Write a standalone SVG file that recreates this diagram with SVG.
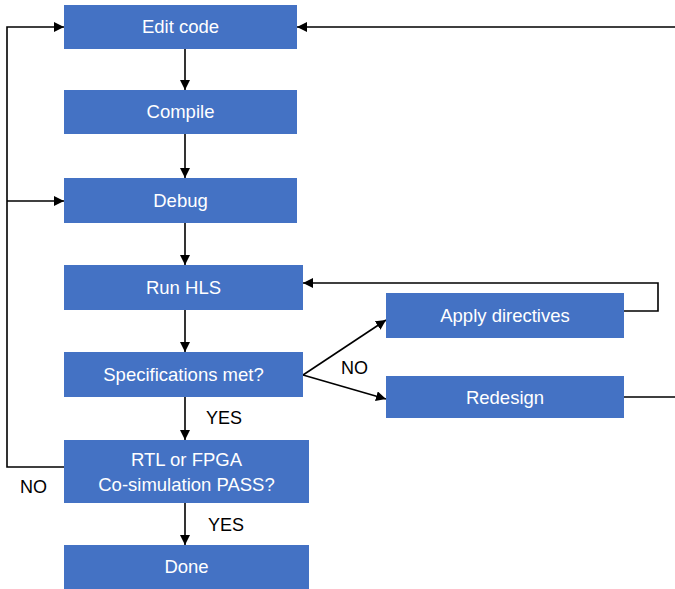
<svg xmlns="http://www.w3.org/2000/svg" width="675" height="589" viewBox="0 0 675 589">
<defs>
<marker id="ah" viewBox="0 0 10 10" refX="10" refY="5" markerWidth="10" markerHeight="10" markerUnits="userSpaceOnUse" orient="auto">
<path d="M0,0 L10,5 L0,10 z" fill="#000"/>
</marker>
<style>
.box{fill:#4472C4;}
.t{font-family:"Liberation Sans",Arial,sans-serif;font-size:18.5px;fill:#fff;text-anchor:middle;}
.l{font-family:"Liberation Sans",Arial,sans-serif;font-size:18px;fill:#000;}
.c{fill:none;stroke:#000;stroke-width:1.6;}
.a{marker-end:url(#ah);}
</style>
</defs>
<rect width="675" height="589" fill="#fff"/>
<g id="connectors">
<path class="c a" d="M185,49 V90"/>
<path class="c a" d="M185,134 V178"/>
<path class="c a" d="M185,223 V265"/>
<path class="c a" d="M185,310 V352"/>
<path class="c a" d="M185,397 V440"/>
<path class="c a" d="M185,503 V545"/>
<path class="c a" d="M64,467 H7 V27 H64"/>
<path class="c a" d="M7,201 H64"/>
<path class="c a" d="M624,397 H678 V27 H297"/>
<path class="c a" d="M624,311 H658 V283 H303"/>
<path class="c a" d="M303,375 L386,320"/>
<path class="c a" d="M303,375 L386,399"/>
<text class="l" x="341" y="374">NO</text>
<text class="l" x="206" y="424">YES</text>
<text class="l" x="20" y="493">NO</text>
<text class="l" x="208" y="531">YES</text>
</g>
<g id="edit"><rect class="box" x="64" y="5" width="233" height="44"/><text class="t" x="180.5" y="33">Edit code</text></g>
<g id="compile"><rect class="box" x="64" y="90" width="233" height="44"/><text class="t" x="180.5" y="118">Compile</text></g>
<g id="debug"><rect class="box" x="64" y="178" width="233" height="45"/><text class="t" x="180.5" y="207">Debug</text></g>
<g id="runhls"><rect class="box" x="64" y="265" width="239" height="45"/><text class="t" x="183.5" y="294">Run HLS</text></g>
<g id="spec"><rect class="box" x="64" y="352" width="239" height="45"/><text class="t" x="183.5" y="381">Specifications met?</text></g>
<g id="rtl"><rect class="box" x="64" y="440" width="245" height="63"/><text class="t" x="186.5" y="466">RTL or FPGA</text><text class="t" x="186.5" y="491">Co-simulation PASS?</text></g>
<g id="done"><rect class="box" x="64" y="545" width="245" height="44"/><text class="t" x="186.5" y="573">Done</text></g>
<g id="apply"><rect class="box" x="386" y="293" width="238" height="45"/><text class="t" x="505" y="322">Apply directives</text></g>
<g id="redesign"><rect class="box" x="386" y="376" width="238" height="42"/><text class="t" x="505" y="404">Redesign</text></g>
</svg>
